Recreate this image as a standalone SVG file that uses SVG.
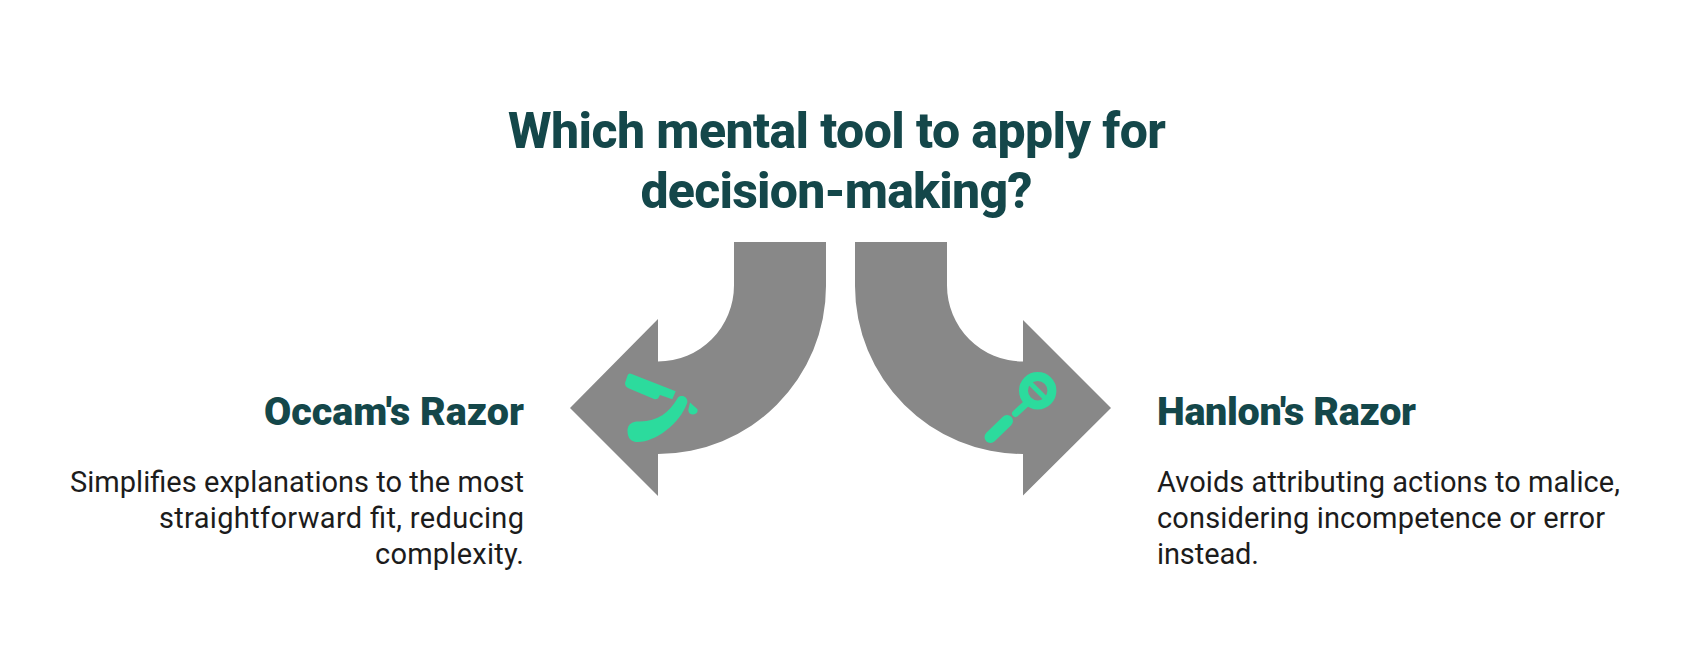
<svg xmlns="http://www.w3.org/2000/svg" width="1681" height="672" viewBox="0 0 1681 672">
<style>
.arrow{fill:#888888}
.icon{fill:#2cdb9d}
.line{fill:none;stroke:#2cdb9d}
.title{font-family:"Roboto","Liberation Sans",sans-serif;font-weight:800;font-size:50px;fill:#14474a;text-anchor:middle}
.head{font-family:"Roboto","Liberation Sans",sans-serif;font-weight:900;font-size:39.5px;fill:#14474a}
.body{font-family:"Roboto","Liberation Sans",sans-serif;font-weight:400;font-size:29px;fill:#1c1c1c}
</style>
<rect width="1681" height="672" fill="#ffffff"/>
<g id="title"><text class="title" x="837" y="148" textLength="658">Which mental tool to apply for</text><text class="title" x="836.5" y="207.5" textLength="392">decision-making?</text></g>
<g id="connectors">
<path class="arrow" d="M734 242V285.5A76 76 0 0 1 658 361.5V319L570 408L658 496V454A168 168 0 0 0 826 286V242Z"/>
<path class="arrow" d="M947 242V285.5A76 76 0 0 0 1023 361.5V320L1111 408L1023 495.5V454A168 168 0 0 1 855 286V242Z"/>
</g>
<g id="occam">
<path class="icon" d="M631 373.7L675.7 391.3L672.3 399.3L660 395L658 398.5Q656 399.5 654 399L629 388.5Q625 387 625 383L627.5 375.5Q628.5 373 631 373.7Z"/>
<path class="icon" d="M678 397.5C682 394 688 397 687.3 402.5C680 424 655 442 638 442C628 442 627.5 434 627.5 430C628 423 634 421 640 421.5C658 421 669 413 678 397.5Z"/>
<path class="icon" d="M690 402.5L697.5 409.3Q698.3 413.5 693.5 414.5Q688.5 414.5 688.3 410Z"/>
<text class="head" x="524" y="425" text-anchor="end" textLength="260">Occam's Razor</text>
<text class="body" x="524" y="492" text-anchor="end" textLength="454">Simplifies explanations to the most</text>
<text class="body" x="524" y="528" text-anchor="end" textLength="365">straightforward fit, reducing</text>
<text class="body" x="524" y="564" text-anchor="end" textLength="149">complexity.</text>
</g>
<g id="hanlon">
<circle class="line" cx="1037.7" cy="390.7" r="14.2" stroke-width="9"/>
<path class="line" d="M1029 382L1046.5 399.5" stroke-width="5"/>
<path class="line" d="M1015.5 413.5L1027 403" stroke-width="7" stroke-linecap="round"/>
<path class="line" d="M990.5 437L1007 421" stroke-width="12" stroke-linecap="round"/>
<text class="head" x="1157" y="425" textLength="259">Hanlon's Razor</text>
<text class="body" x="1157" y="492" textLength="463">Avoids attributing actions to malice,</text>
<text class="body" x="1157" y="528" textLength="448">considering incompetence or error</text>
<text class="body" x="1157" y="564" textLength="102">instead.</text>
</g>
</svg>
